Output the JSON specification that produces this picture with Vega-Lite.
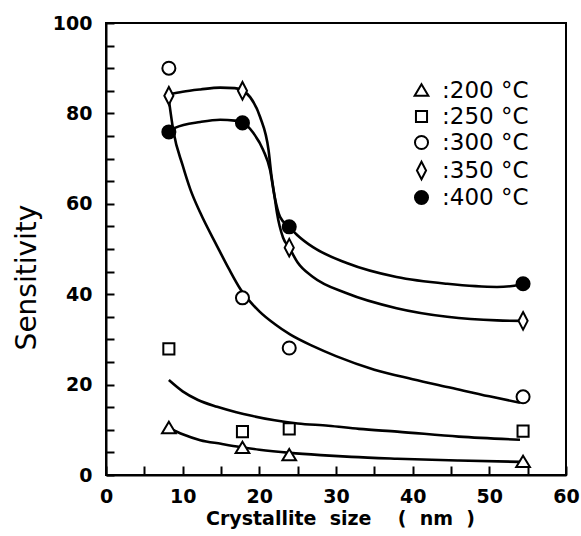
{
  "$schema": "https://vega.github.io/schema/vega-lite/v6.json",
  "width": 460,
  "height": 452,
  "autosize": {"type": "none"},
  "padding": {"left": 106, "top": 23, "right": 15, "bottom": 61},
  "background": "white",
  "config": {
    "view": {"stroke": "black", "strokeWidth": 2},
    "axis": {
      "domainColor": "black", "domainWidth": 2, "tickColor": "black", "tickWidth": 2,
      "grid": false, "labelColor": "black", "titleColor": "black",
      "labelFont": "DejaVu Sans", "labelFontWeight": "bold", "labelFontSize": 19,
      "labelFlush": false, "labelOverlap": false
    }
  },
  "datasets": {
    "curves": [
      {"s": "200", "x": 8.2, "y": 10.4}, {"s": "200", "x": 10, "y": 9.0}, {"s": "200", "x": 12.3, "y": 7.7}, {"s": "200", "x": 15, "y": 6.9}, {"s": "200", "x": 17.5, "y": 6.2}, {"s": "200", "x": 20, "y": 5.6}, {"s": "200", "x": 24, "y": 4.9}, {"s": "200", "x": 28, "y": 4.4}, {"s": "200", "x": 32, "y": 4.0}, {"s": "200", "x": 38, "y": 3.6}, {"s": "200", "x": 46, "y": 3.2}, {"s": "200", "x": 54, "y": 2.9},
      {"s": "250", "x": 8.2, "y": 21}, {"s": "250", "x": 10, "y": 18.5}, {"s": "250", "x": 12, "y": 16.6}, {"s": "250", "x": 14.5, "y": 15.1}, {"s": "250", "x": 17, "y": 13.9}, {"s": "250", "x": 19, "y": 13.1}, {"s": "250", "x": 22, "y": 12.1}, {"s": "250", "x": 25, "y": 11.4}, {"s": "250", "x": 29, "y": 10.9}, {"s": "250", "x": 33, "y": 10.2}, {"s": "250", "x": 38, "y": 9.6}, {"s": "250", "x": 46, "y": 8.5}, {"s": "250", "x": 54, "y": 7.8},
      {"s": "300", "x": 8.2, "y": 83}, {"s": "300", "x": 8.8, "y": 76}, {"s": "300", "x": 10, "y": 68.5}, {"s": "300", "x": 11, "y": 63.2}, {"s": "300", "x": 12.3, "y": 58}, {"s": "300", "x": 14.5, "y": 50.6}, {"s": "300", "x": 16, "y": 45.7}, {"s": "300", "x": 17.5, "y": 41.2}, {"s": "300", "x": 20, "y": 36.2}, {"s": "300", "x": 22, "y": 33.4}, {"s": "300", "x": 24, "y": 31.1}, {"s": "300", "x": 27, "y": 28.5}, {"s": "300", "x": 30, "y": 26.3}, {"s": "300", "x": 35, "y": 23.3}, {"s": "300", "x": 40, "y": 21.2}, {"s": "300", "x": 45, "y": 19.3}, {"s": "300", "x": 50, "y": 17.4}, {"s": "300", "x": 54, "y": 16},
      {"s": "350", "x": 8.2, "y": 84.2}, {"s": "350", "x": 10, "y": 84.8}, {"s": "350", "x": 12.3, "y": 85.3}, {"s": "350", "x": 14.9, "y": 85.7}, {"s": "350", "x": 16.8, "y": 85.6}, {"s": "350", "x": 17.8, "y": 85.1}, {"s": "350", "x": 18.8, "y": 83.6}, {"s": "350", "x": 20.1, "y": 79.2}, {"s": "350", "x": 21.2, "y": 71.9}, {"s": "350", "x": 21.6, "y": 66}, {"s": "350", "x": 22, "y": 61.5}, {"s": "350", "x": 22.3, "y": 58}, {"s": "350", "x": 23.1, "y": 52.5}, {"s": "350", "x": 23.9, "y": 50.3}, {"s": "350", "x": 25, "y": 47}, {"s": "350", "x": 27, "y": 43.8}, {"s": "350", "x": 31.4, "y": 40.2}, {"s": "350", "x": 37.9, "y": 36.9}, {"s": "350", "x": 44.5, "y": 35}, {"s": "350", "x": 51, "y": 34.2}, {"s": "350", "x": 54.4, "y": 34.1},
      {"s": "400", "x": 8.2, "y": 76}, {"s": "400", "x": 9, "y": 76.8}, {"s": "400", "x": 12.3, "y": 78.1}, {"s": "400", "x": 14.9, "y": 78.6}, {"s": "400", "x": 16.8, "y": 78.4}, {"s": "400", "x": 17.8, "y": 78}, {"s": "400", "x": 19.2, "y": 75.7}, {"s": "400", "x": 20.5, "y": 71.9}, {"s": "400", "x": 21.4, "y": 67.5}, {"s": "400", "x": 22, "y": 61.5}, {"s": "400", "x": 22.7, "y": 57.1}, {"s": "400", "x": 23.9, "y": 54.9}, {"s": "400", "x": 25, "y": 53}, {"s": "400", "x": 27, "y": 50.4}, {"s": "400", "x": 31.4, "y": 46.9}, {"s": "400", "x": 37.9, "y": 43.8}, {"s": "400", "x": 44.5, "y": 42.3}, {"s": "400", "x": 51, "y": 41.6}, {"s": "400", "x": 53, "y": 41.8}, {"s": "400", "x": 54.4, "y": 42.3}
    ],
    "points": [
      {"T": ":200 °C", "x": 8.2, "y": 10.4}, {"T": ":200 °C", "x": 17.8, "y": 6.0}, {"T": ":200 °C", "x": 23.9, "y": 4.4}, {"T": ":200 °C", "x": 54.4, "y": 2.9},
      {"T": ":250 °C", "x": 8.2, "y": 27.9}, {"T": ":250 °C", "x": 17.8, "y": 9.6}, {"T": ":250 °C", "x": 23.9, "y": 10.2}, {"T": ":250 °C", "x": 54.4, "y": 9.7},
      {"T": ":300 °C", "x": 8.2, "y": 90}, {"T": ":300 °C", "x": 17.8, "y": 39.2}, {"T": ":300 °C", "x": 23.9, "y": 28.1}, {"T": ":300 °C", "x": 54.4, "y": 17.3},
      {"T": ":350 °C", "x": 8.2, "y": 83.9}, {"T": ":350 °C", "x": 17.8, "y": 85}, {"T": ":350 °C", "x": 23.9, "y": 50.3}, {"T": ":350 °C", "x": 54.4, "y": 34.1},
      {"T": ":400 °C", "x": 8.2, "y": 75.9}, {"T": ":400 °C", "x": 17.8, "y": 77.9}, {"T": ":400 °C", "x": 23.9, "y": 54.9}, {"T": ":400 °C", "x": 54.4, "y": 42.3}
    ]
  },
  "encoding": {
    "x": {
      "field": "x", "type": "quantitative",
      "scale": {"domain": [0, 60], "nice": false, "zero": false},
      "axis": {
        "values": [0, 5, 10, 15, 20, 25, 30, 35, 40, 45, 50, 55, 60],
        "labelExpr": "datum.value % 10 === 0 ? datum.label : ''",
        "tickSize": -9,
        "labelPadding": 21,
        "title": "Crystallite\u00a0\u00a0size\u00a0\u00a0\u00a0\u00a0(\u00a0\u00a0nm\u00a0\u00a0)",
        "titleFont": "DejaVu Sans", "titleFontWeight": "bold", "titleFontSize": 19,
        "titleY": 43, "titleBaseline": "middle", "titleX": 234
      }
    },
    "y": {
      "field": "y", "type": "quantitative",
      "scale": {"domain": [0, 100], "nice": false, "zero": false},
      "axis": {
        "values": [0, 5, 10, 15, 20, 25, 30, 35, 40, 45, 50, 55, 60, 65, 70, 75, 80, 85, 90, 95, 100],
        "labelExpr": "datum.value % 20 === 0 ? datum.label : ''",
        "tickSize": -8,
        "labelPadding": 22,
        "title": "Sensitivity",
        "titleFont": "DejaVu Sans", "titleFontWeight": "normal", "titleFontSize": 28,
        "titleAngle": -90, "titleX": -79, "titleY": 254, "titleAlign": "center", "titleBaseline": "middle"
      }
    }
  },
  "layer": [
    {
      "data": {"name": "curves"},
      "mark": {"type": "line", "color": "black", "strokeWidth": 2.6, "interpolate": "monotone", "clip": true},
      "encoding": {"detail": {"field": "s"}}
    },
    {
      "data": {"name": "points"},
      "mark": {"type": "point", "stroke": "black", "strokeWidth": 2, "opacity": 1, "size": 170},
      "encoding": {
        "stroke": {"value": "black"},
        "shape": {
          "field": "T", "type": "nominal",
          "scale": {
            "domain": [":200 °C", ":250 °C", ":300 °C", ":350 °C", ":400 °C"],
            "range": ["M0,-0.95L1.05,0.8L-1.05,0.8Z", "M-0.85,-0.85L0.85,-0.85L0.85,0.85L-0.85,0.85Z", "circle", "M0,-1.35L0.7,0L0,1.35L-0.7,0Z", "circle"]
          },
          "legend": {
            "title": null, "orient": "none", "legendX": 304, "legendY": 56,
            "labelFont": "DejaVu Sans", "labelFontSize": 23, "labelColor": "black",
            "symbolStrokeColor": "black", "symbolStrokeWidth": 2, "symbolSize": 170, "symbolOpacity": 1,
            "labelOffset": 9, "rowPadding": 2, "padding": 0,
            "encode": {"symbols": {"update": {"stroke": {"value": "black"}, "strokeWidth": {"value": 2}}}}
          }
        },
        "fill": {
          "field": "T", "type": "nominal",
          "scale": {
            "domain": [":200 °C", ":250 °C", ":300 °C", ":350 °C", ":400 °C"],
            "range": ["white", "white", "white", "white", "black"]
          },
          "legend": {
            "title": null, "orient": "none", "legendX": 304, "legendY": 56,
            "labelFont": "DejaVu Sans", "labelFontSize": 23, "labelColor": "black",
            "symbolStrokeColor": "black", "symbolStrokeWidth": 2, "symbolSize": 170, "symbolOpacity": 1,
            "labelOffset": 9, "rowPadding": 2, "padding": 0,
            "encode": {"symbols": {"update": {"stroke": {"value": "black"}, "strokeWidth": {"value": 2}}}}
          }
        }
      }
    }
  ]
}
